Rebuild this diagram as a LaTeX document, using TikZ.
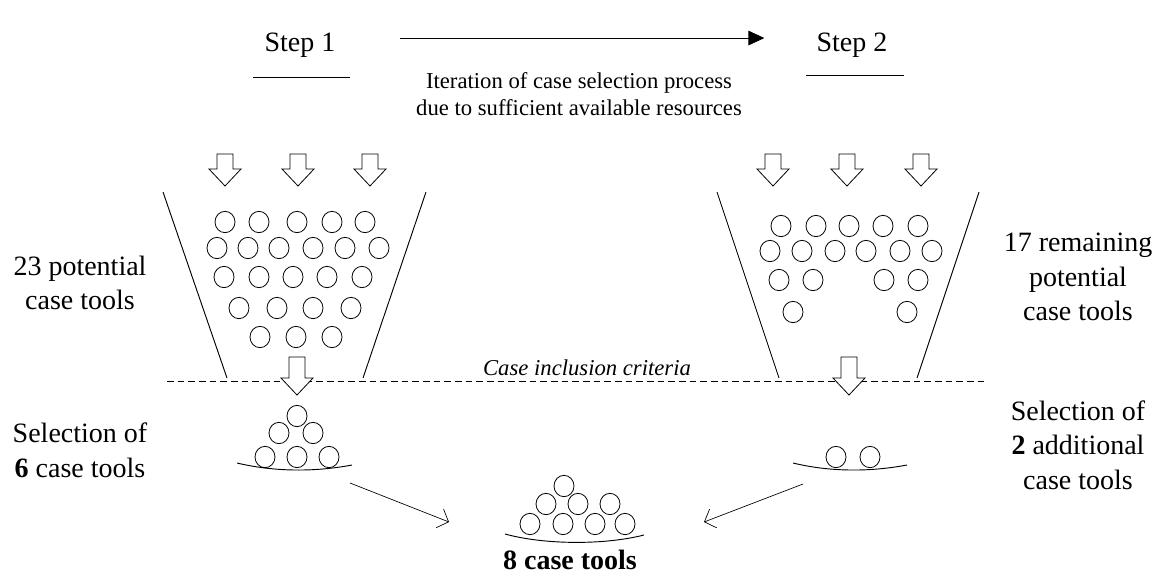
\documentclass[tikz,border=0pt]{standalone}
\usepackage{fontspec}
\setmainfont{Liberation Serif}
\usetikzlibrary{arrows.meta}
\tikzset{
  every picture/.style={>=Latex},
  lab/.style={font=\fontsize{21}{26}\selectfont, align=center, inner sep=0pt},
  note/.style={font=\fontsize{17}{20}\selectfont, align=center, inner sep=0pt},
  wall/.style={line width=0.7pt},
  ball/.style={line width=0.6pt},
  crit/.style={line width=0.6pt, dash pattern=on 5pt off 3pt},
  steparr/.style={line width=0.6pt, -{Triangle[length=12pt,width=11pt]}},
  pickarr/.style={line width=0.5pt, -{Straight Barb[length=7pt,width=15pt]}},
}
\newcommand{\dropper}[3]{% block arrow at x #1, from y #2 down to tip y #3
  \draw[ball,fill=white] (#1-8,#2) -- (#1+8,#2) -- (#1+8,#3-17) -- (#1+16,#3-17)
    -- (#1,#3) -- (#1-16,#3-17) -- (#1-8,#3-17) -- cycle;}
\newcommand{\ballrow}[2]{% balls at the x values #1, height #2
  \foreach \bx in {#1} \draw[ball] (\bx,#2) ellipse [x radius=7.5pt, y radius=8pt];}

\begin{document}
\begin{tikzpicture}[x=0.75pt, y=-0.75pt]
  \useasboundingbox (0,0) rectangle (1164,576);
  % the two steps
  \node[lab, anchor=base] (s1) at (300,51) {Step 1};
  \node[lab, anchor=base] (s2) at (852,51) {Step 2};
  \draw[wall] (253,77) -- (350,77);
  \draw[wall] (806,75) -- (904,75);
  \draw[steparr] ([shift={(48pt,5pt)}]s1.east) -- ([shift={(-39pt,5pt)}]s2.west);
  \node[note] (iter) at (579,94) {Iteration of case selection process\\due to sufficient available resources};

  % funnels and criteria line
  \draw[wall] (163,192) -- (227,378);
  \draw[wall] (426,192) -- (363,378);
  \draw[wall] (717,192) -- (779,378);
  \draw[wall] (979,192) -- (917,378);
  \draw[crit] (167,381) -- (984,381);
  \node[note, font=\fontsize{17}{20}\selectfont\itshape] (incl) at (587,368) {Case inclusion criteria};

  \dropper{225}{154}{186}
  \dropper{298}{154}{186}
  \dropper{370}{154}{186}
  \dropper{773}{154}{186}
  \dropper{847}{154}{186}
  \dropper{921}{154}{186}
  \dropper{297}{357}{395}
  \dropper{849}{357}{395}

  % step 1: 23 balls
  \ballrow{225,259,297,332,365}{222}
  \ballrow{217,248,279,313,345,379}{248}
  \ballrow{224,259,293,327,362}{277}
  \ballrow{239,277,313,351}{308}
  \ballrow{260,296,332}{337}
  % step 2: 17 balls
  \ballrow{781,816,849,883,918}{226}
  \ballrow{770,802,835,866,900,932}{251}
  \ballrow{779,813,884,918}{280}
  \ballrow{793,907}{312}

  % selected piles
  \ballrow{297}{416}
  \ballrow{279,313}{433}
  \ballrow{265,297,329}{457}
  \draw[wall] (237,463) .. controls (275,472) and (315,472) .. (352,465);
  \ballrow{836,870}{457}
  \draw[wall] (793,463) .. controls (830,472) and (870,472) .. (907,465);
  \ballrow{564}{486}
  \ballrow{546,578,610}{504}
  \ballrow{530,563,595,625}{524}
  \draw[wall] (505,534) .. controls (545,545) and (605,545) .. (644,535);

  % labels
  \node[lab] (pot23) at (80,283) {23 potential\\case tools};
  \node[lab] (sel6) at (80,450) {Selection of\\\textbf{6} case tools};
  \node[lab] (pot17) at (1078,277) {17 remaining\\potential\\case tools};
  \node[lab] (sel2) at (1078,445) {Selection of\\\textbf{2} additional\\case tools};
  \node[lab, font=\fontsize{21}{26}\selectfont\bfseries] (tot8) at (570,560) {8 case tools};

  \coordinate (pile6) at (350,483);
  \coordinate (pile2) at (803,484);
  \coordinate (in8l) at (449,522);
  \coordinate (in8r) at (704,522);
  \draw[pickarr] (pile6) -- (in8l);
  \draw[pickarr] (pile2) -- (in8r);
\end{tikzpicture}
\end{document}
